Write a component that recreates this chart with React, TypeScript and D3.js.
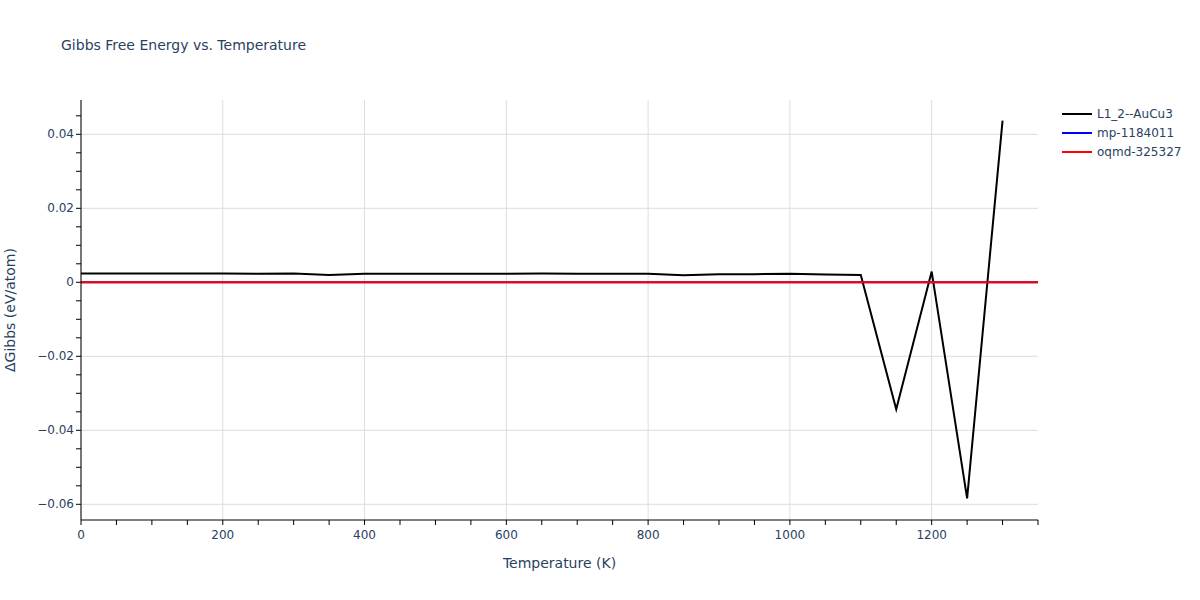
import React from "react";
import * as d3 from "d3";

const temperatures = [0, 50, 100, 150, 200, 250, 300, 350, 400, 450, 500, 550, 600, 650, 700, 750, 800, 850, 900, 950, 1000, 1050, 1100, 1150, 1200, 1250, 1300];
const gibbsL12 = [0.0024, 0.0024, 0.0024, 0.0024, 0.0024, 0.0023, 0.0024, 0.0020, 0.0023, 0.0023, 0.0023, 0.0023, 0.0023, 0.0024, 0.0023, 0.0023, 0.0023, 0.0019, 0.0022, 0.0022, 0.0023, 0.0021, 0.0020, -0.0343, 0.0029, -0.0584, 0.0437];
const refTemps = [0, 1350];
const gibbsMp = [0, 0];
const gibbsOqmd = [0, 0];
const seriesNames = ["L1_2--AuCu3", "mp-1184011", "oqmd-325327"];
const seriesColors = ["#000000", "#0000ff", "#ff0000"];
const xTicks = [0, 200, 400, 600, 800, 1000, 1200];
const yTicks = [-0.06, -0.04, -0.02, 0, 0.02, 0.04];

const W = 1200, H = 600;
const L = 81, R = 1038, T = 100, B = 520;
const FONT = "'DejaVu Sans', Verdana, sans-serif";
const TXT = "#2a3f5f";

export default function App() {
  const x = d3.scaleLinear().domain([0, 1350]).range([L, R]);
  const y = d3.scaleLinear().domain([-0.06424, 0.04927]).range([B, T]);
  const line = d3.line<[number, number]>().x(d => x(d[0])).y(d => y(d[1]));
  const minorX = d3.range(0, 1351, 50);
  const minorY = d3.range(-0.06, 0.0491, 0.005);
  const series = [
    { xs: temperatures, ys: gibbsL12 },
    { xs: refTemps, ys: gibbsMp },
    { xs: refTemps, ys: gibbsOqmd },
  ];
  const fmtY = (v: number) => (Math.abs(v) < 1e-9 ? "0" : v.toFixed(2).replace("-", "\u2212"));
  return (
    <svg width={W} height={H} style={{ position: "absolute", left: 0, top: 0, background: "#fff" }} fontFamily={FONT}>
      <rect x={0} y={0} width={W} height={H} fill="#fff" />
      {xTicks.map(t => (
        <line key={"gx" + t} x1={x(t)} x2={x(t)} y1={T} y2={B} stroke="#dddddd" strokeWidth={1} />
      ))}
      {yTicks.map(t => (
        <line key={"gy" + t} x1={L} x2={R} y1={y(t)} y2={y(t)} stroke="#dddddd" strokeWidth={1} />
      ))}
      <defs>
        <clipPath id="plotclip"><rect x={L} y={T} width={R - L} height={B - T} /></clipPath>
      </defs>
      <g clipPath="url(#plotclip)">
        {series.map((s, i) => (
          <path key={i} d={line(s.xs.map((v, j) => [v, s.ys[j]] as [number, number])) || ""} fill="none" stroke={seriesColors[i]} strokeWidth={2} />
        ))}
      </g>
      <line x1={L} x2={L} y1={T} y2={B} stroke="#000" strokeWidth={1} />
      <line x1={L} x2={R} y1={B} y2={B} stroke="#000" strokeWidth={1} />
      {minorX.map(t => (
        <line key={"tx" + t} x1={x(t)} x2={x(t)} y1={B} y2={B + 5} stroke="#000" strokeWidth={1} />
      ))}
      {minorY.map(t => (
        <line key={"ty" + t} x1={L - 5} x2={L} y1={y(t)} y2={y(t)} stroke="#000" strokeWidth={1} />
      ))}
      {xTicks.map(t => (
        <text key={"lx" + t} x={x(t)} y={B + 19} textAnchor="middle" fontSize={12} fill={TXT}>{t}</text>
      ))}
      {yTicks.map(t => (
        <text key={"ly" + t} x={L - 7} y={y(t) + 4} textAnchor="end" fontSize={12} fill={TXT}>{fmtY(t)}</text>
      ))}
      <text x={(L + R) / 2} y={568} textAnchor="middle" fontSize={14} fill={TXT}>Temperature (K)</text>
      <text transform={`translate(15,${(T + B) / 2}) rotate(-90)`} textAnchor="middle" fontSize={14} fill={TXT}>ΔGibbs (eV/atom)</text>
      <text x={61} y={50} fontSize={14} fill={TXT}>Gibbs Free Energy vs. Temperature</text>
      {seriesNames.map((n, i) => (
        <g key={n} transform={`translate(1062,${114 + i * 19})`}>
          <line x1={0} x2={30} y1={0} y2={0} stroke={seriesColors[i]} strokeWidth={2} />
          <text x={35} y={4} fontSize={12} fill={TXT}>{n}</text>
        </g>
      ))}
    </svg>
  );
}
